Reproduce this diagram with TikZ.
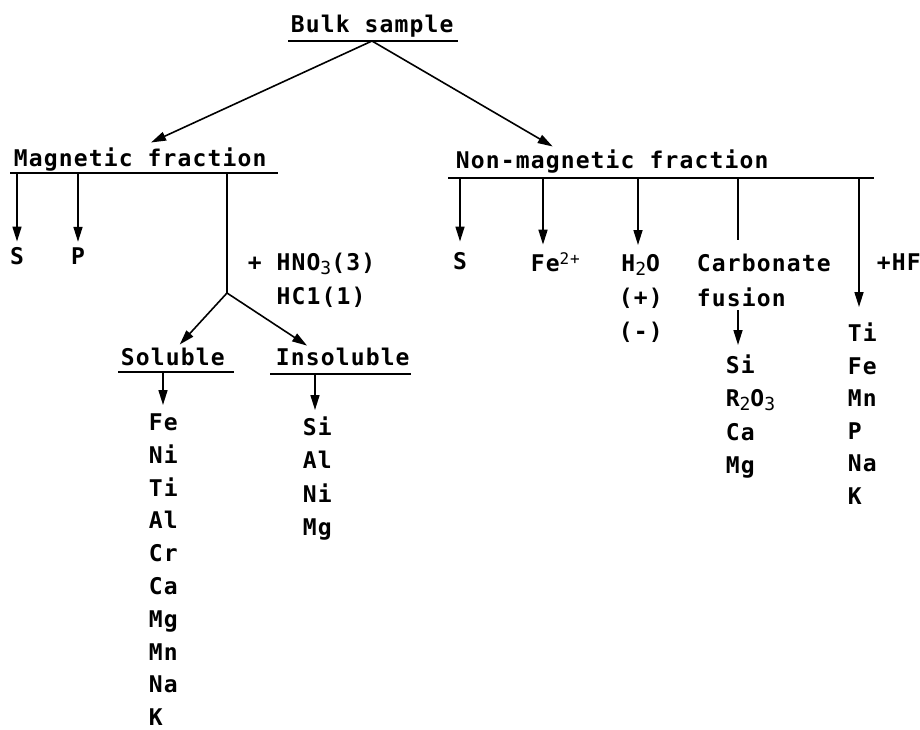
\documentclass[tikz,border=0pt]{standalone}
\usepackage{fontspec}
\usepackage{tikz}
\usetikzlibrary{arrows.meta}
\newfontfamily\chemfont[LetterSpace=5,BoldFont={DejaVu Sans Mono Bold}]{DejaVu Sans Mono}
\newcommand\lowr[1]{\raisebox{-0.3ex}{\fontsize{18}{18}\selectfont\mdseries #1}}
\newcommand\highr[1]{\raisebox{0.55ex}{\fontsize{16}{16}\selectfont\mdseries #1}}

\begin{document}
\begin{tikzpicture}[x=1pt,y=-1pt,>={Triangle[length=15pt,width=9pt]},line width=1.6pt,
  every node/.style={font=\chemfont\bfseries\fontsize{23}{34}\selectfont,inner sep=0pt},
  hd/.style={anchor=base west},
  col/.style={anchor=north west,align=left}]
  \useasboundingbox (0,0) rectangle (920,730);

  % headings and their rules
  \node[hd] (bulk)  at (290,33)  {Bulk sample};
  \node[hd] (mag)   at (13,167)  {Magnetic fraction};
  \node[hd] (nmag)  at (455,168) {Non-magnetic fraction};
  \node[hd] (sol)   at (120,365) {Soluble};
  \node[hd] (insol) at (275,365) {Insoluble};

  \coordinate (b0) at (372,41);
  \coordinate (m1) at (17,173);  \coordinate (m2) at (78,173);  \coordinate (m3) at (227,173);
  \coordinate (br) at (227,293);
  \coordinate (s1) at (163,372); \coordinate (i1) at (315,374);
  \coordinate (n1) at (460,178); \coordinate (n2) at (543,178); \coordinate (n3) at (638,178);
  \coordinate (n4) at (738,178); \coordinate (n5) at (859,178);

  \draw (288,41) -- (458,41);
  \draw (10,173) -- (278,173);
  \draw (448,178) -- (874,178);
  \draw (118,372) -- (234,372);
  \draw (270,374) -- (411,374);

  % magnetic side
  \node (mS) at (17,256) {S};
  \node (mP) at (78,256) {P};
  \node[col] (acid) at (247,252) {+ HNO\lowr{3}(3)\\\phantom{+ }HC1(1)};
  \node[col,font=\chemfont\bfseries\fontsize{23}{32.8}\selectfont] (slist) at (148,413)
    {Fe\\Ni\\Ti\\Al\\Cr\\Ca\\Mg\\Mn\\Na\\K};
  \node[col,font=\chemfont\bfseries\fontsize{23}{33.3}\selectfont] (ilist) at (302,416)
    {Si\\Al\\Ni\\Mg};

  % non-magnetic side
  \node (nS) at (460,261) {S};
  \node[anchor=west] (fe) at (530,262) {Fe\highr{2+}};
  \node[anchor=north west,align=center] (water) at (618,254) {H\lowr{2}O\\(+)\\(-)};
  \node[col,font=\chemfont\bfseries\fontsize{23}{35}\selectfont] (carb) at (696,253) {Carbonate\\fusion};
  \node[anchor=west] (hf) at (876,262) {+HF};
  \node[col,font=\chemfont\bfseries\fontsize{23}{33.3}\selectfont] (rlist) at (725,354)
    {Si\\R\lowr{2}O\lowr{3}\\Ca\\Mg};
  \node[col,font=\chemfont\bfseries\fontsize{23}{32.6}\selectfont] (hlist) at (847,322)
    {Ti\\Fe\\Mn\\P\\Na\\K};

  \path[->] (b0) edge [shorten >=12pt] (mag.north)
            (b0) edge [shorten >=4pt] ([xshift=-56pt]nmag.north)
            (m1) edge [shorten >=5pt] (mS.north)
            (m2) edge [shorten >=5pt] (mP.north)
            (br) edge [shorten >=3pt] ([xshift=5pt]sol.north)
            (br) edge [shorten >=2pt] ([xshift=-34pt]insol.north)
            (s1) edge [shorten >=8pt] (s1 |- slist.north)
            (i1) edge [shorten >=6pt] (i1 |- ilist.north)
            (n1) edge [shorten >=10pt] (nS.north)
            (n2) edge [shorten >=7pt] (n2 |- fe.north)
            (n3) edge [shorten >=9pt] (n3 |- water.north)
            (n4 |- carb.south) edge [shorten <=3pt,shorten >=9pt] (n4 |- rlist.north)
            (n5) edge [shorten >=15pt] (n5 |- hlist.north);
  \draw (m3) -- (br);
  \draw[shorten >=13pt] (n4) -- (n4 |- carb.north);
\end{tikzpicture}
\end{document}
